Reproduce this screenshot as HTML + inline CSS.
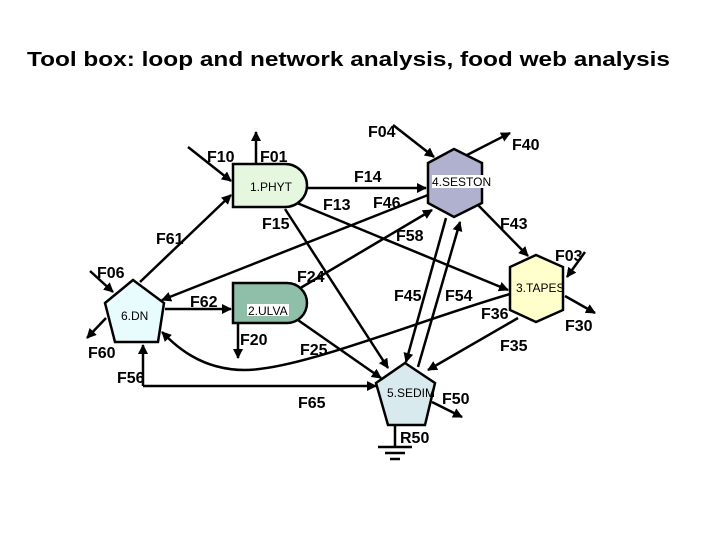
<!DOCTYPE html>
<html><head><meta charset="utf-8"><style>
html,body{margin:0;padding:0;background:#fff;}
svg{display:block;font-family:"Liberation Sans",Arial,sans-serif;}
.l{font-size:16px;font-weight:bold;fill:#000;}
.n{font-size:12px;fill:#000;}
</style></head><body>
<svg width="720" height="540" viewBox="0 0 720 540" xmlns="http://www.w3.org/2000/svg">
<defs><marker id="a" markerWidth="10" markerHeight="10" refX="9" refY="5" orient="auto" markerUnits="userSpaceOnUse"><path d="M0,0 L10,5 L0,10 z" fill="#000"/></marker></defs>
<rect width="720" height="540" fill="#fff"/>
<text x="27" y="66" font-size="20" font-weight="bold" textLength="643" lengthAdjust="spacingAndGlyphs">Tool box: loop  and network analysis,  food web analysis</text>

<g stroke="#000" stroke-width="2.5" fill="none" marker-end="url(#a)">
<line x1="188" y1="147" x2="231" y2="181"/>
<line x1="256" y1="163" x2="256" y2="132"/>
<line x1="307" y1="188" x2="426" y2="188"/>
<line x1="297" y1="203" x2="508" y2="290"/>
<line x1="428" y1="195" x2="162" y2="300"/>
<line x1="285" y1="209" x2="388" y2="368"/>
<line x1="140" y1="282" x2="231" y2="195"/>
<line x1="90" y1="271" x2="113" y2="292"/>
<line x1="106" y1="318" x2="87" y2="338"/>
<line x1="165" y1="309" x2="231" y2="309"/>
<line x1="238" y1="323" x2="238" y2="358"/>
<line x1="297" y1="290" x2="432" y2="210"/>
<line x1="295" y1="318" x2="381" y2="378"/>
<line x1="143" y1="386" x2="143" y2="345" marker-end="url(#a)"/>
<polyline points="143,386 376,386"/>
<path d="M510,294 C420,320 300,370 245,370 C200,370 175,345 162,332"/>
<line x1="446" y1="218" x2="406" y2="362"/>
<line x1="418" y1="367" x2="460" y2="222"/>
<line x1="478" y1="205" x2="528" y2="256"/>
<line x1="393" y1="125" x2="434" y2="157"/>
<line x1="467" y1="155" x2="510" y2="133"/>
<line x1="585" y1="252" x2="567" y2="277"/>
<line x1="565" y1="296" x2="595" y2="313"/>
<line x1="518" y1="318" x2="428" y2="370"/>
<line x1="432" y1="402" x2="462" y2="417"/>
</g>

<g stroke="#000" stroke-width="2.5">
<path d="M233,164 H285 A22,21.5 0 0 1 285,207 H233 Z" fill="#e6f7df"/>
<path d="M233,283 H287 A20,20 0 0 1 287,323 H233 Z" fill="#8fbfa8"/>
<polygon points="133,280 164,303 158,342 115,342 105,303" fill="#e8fbfd"/>
<polygon points="454,149 482,163 482,203 454,217 428,203 428,163" fill="#b0b0cf"/>
<polygon points="536,255 563,267 563,310 536,322 510,310 510,267" fill="#ffffcc"/>
<polygon points="405,363 435,383 425,425 388,425 376,383" fill="#d9eaee"/>
<line x1="395" y1="425" x2="395" y2="446"/>
<line x1="378" y1="447" x2="412" y2="447"/>
<line x1="385" y1="453" x2="405" y2="453"/>
<line x1="390" y1="459" x2="400" y2="459"/>
</g>
<rect x="247" y="304" width="42" height="12" fill="#fff"/>
<rect x="432" y="175" width="64" height="13" fill="#fff"/>

<text class="n" x="250" y="191">1.PHYT</text>
<text class="n" x="248" y="315">2.ULVA</text>
<text class="n" x="121" y="320">6.DN</text>
<text class="n" x="432" y="186">4.SESTON</text>
<text class="n" x="516" y="292">3.TAPES</text>
<text class="n" x="387" y="397">5.SEDIM</text>

<text class="l" x="368" y="137">F04</text>
<text class="l" x="512" y="150">F40</text>
<text class="l" x="207" y="162">F10</text>
<text class="l" x="260" y="162">F01</text>
<text class="l" x="354" y="182">F14</text>
<text class="l" x="323" y="210">F13</text>
<text class="l" x="373" y="208">F46</text>
<text class="l" x="262" y="229">F15</text>
<text class="l" x="156" y="244">F61</text>
<text class="l" x="396" y="241">F58</text>
<text class="l" x="500" y="229">F43</text>
<text class="l" x="555" y="261">F03</text>
<text class="l" x="97" y="278">F06</text>
<text class="l" x="297" y="282">F24</text>
<text class="l" x="190" y="307">F62</text>
<text class="l" x="394" y="301">F45</text>
<text class="l" x="445" y="301">F54</text>
<text class="l" x="481" y="319">F36</text>
<text class="l" x="565" y="331">F30</text>
<text class="l" x="240" y="345">F20</text>
<text class="l" x="88" y="358">F60</text>
<text class="l" x="300" y="355">F25</text>
<text class="l" x="500" y="351">F35</text>
<text class="l" x="117" y="383">F56</text>
<text class="l" x="298" y="408">F65</text>
<text class="l" x="442" y="404">F50</text>
<text class="l" x="400" y="443">R50</text>
</svg>
</body></html>
